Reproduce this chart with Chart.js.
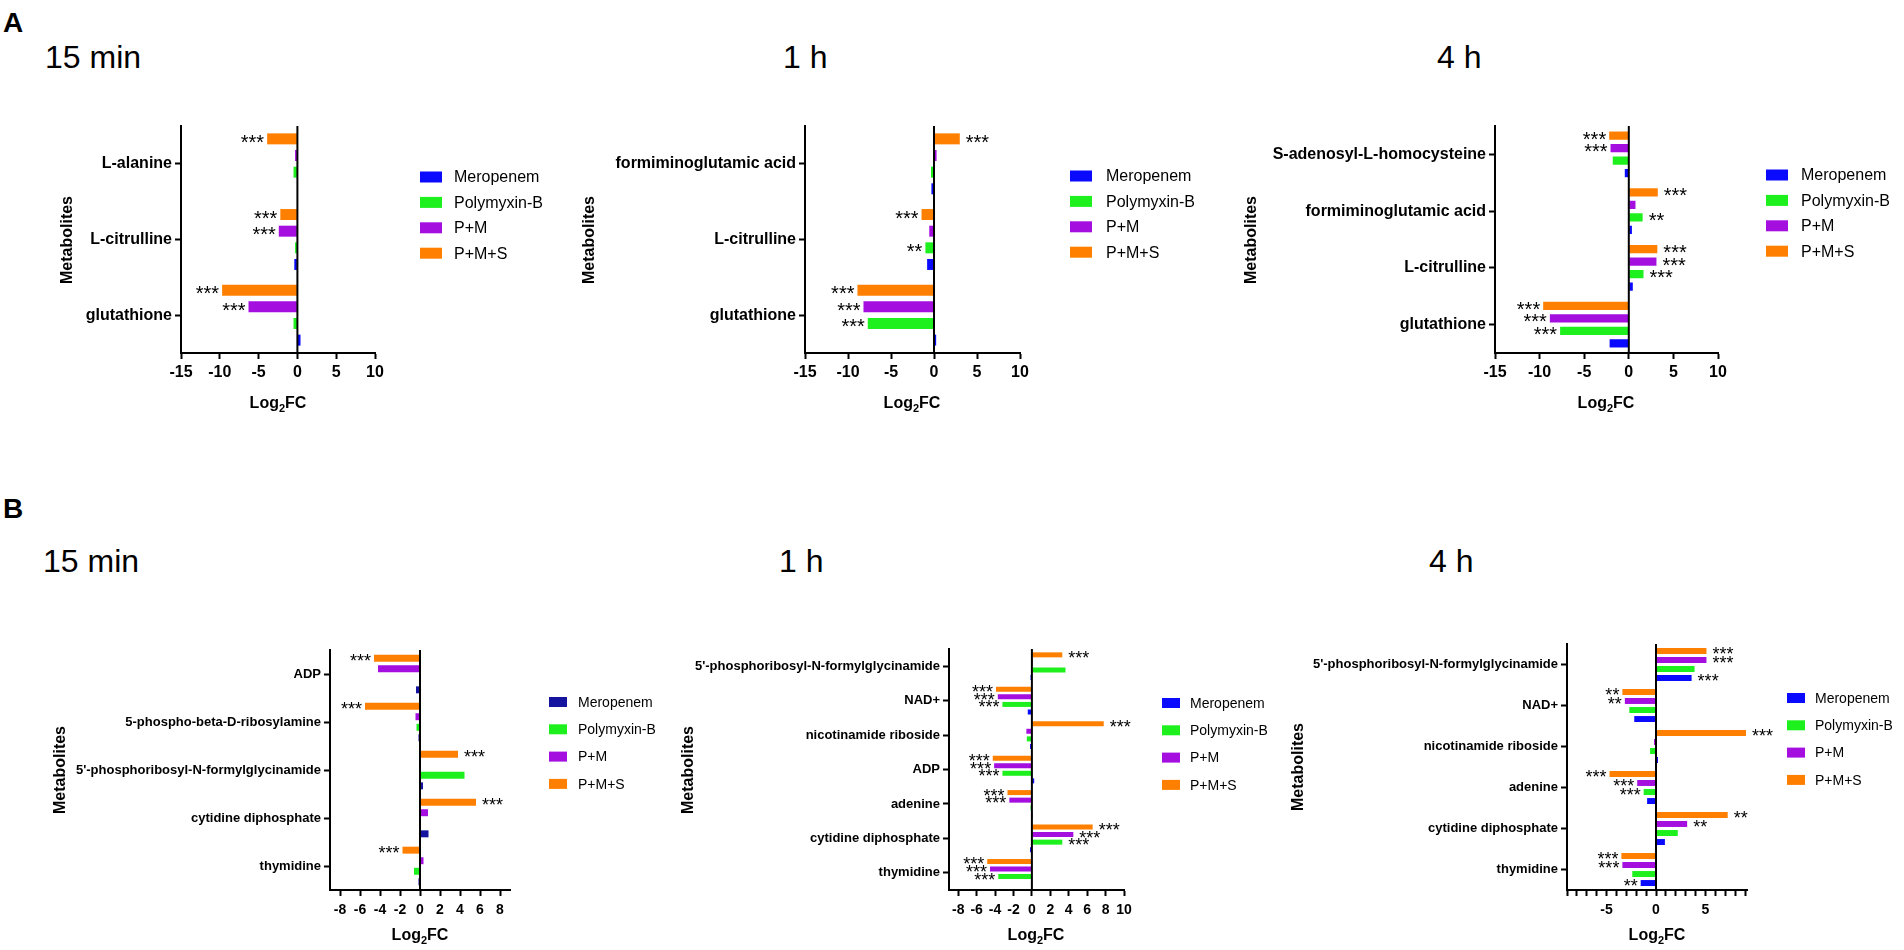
<!DOCTYPE html>
<html>
<head>
<meta charset="utf-8">
<script src="https://cdn.jsdelivr.net/npm/chart.js@4.4.1/dist/chart.umd.min.js"></script>
<style>
body{margin:0;background:#fff;width:1904px;height:950px;overflow:hidden;position:relative;font-family:'Liberation Sans',Arial,sans-serif;}
.etq{position:absolute;color:#000;white-space:nowrap;}
.letra{font-weight:bold;font-size:28px;line-height:28px;}
.tiempo{font-size:32px;line-height:32px;}
.panel{position:absolute;}
</style>
</head>
<body>
<div class="etq letra" style="left:3px;top:9px">A</div>
<div class="etq tiempo" style="left:45px;top:41px">15 min</div>
<div class="etq tiempo" style="left:783px;top:41px">1 h</div>
<div class="etq tiempo" style="left:1437px;top:41px">4 h</div>
<div class="etq letra" style="left:3px;top:495px">B</div>
<div class="etq tiempo" style="left:43px;top:545px">15 min</div>
<div class="etq tiempo" style="left:779px;top:545px">1 h</div>
<div class="etq tiempo" style="left:1429px;top:545px">4 h</div>
<script>
var series = ['Meropenem', 'Polymyxin-B', 'P+M', 'P+M+S'];
var colores = ['#0a0aff', '#1ef01e', '#a40fe0', '#ff8000'];
var coloresB15 = ['#14149e', '#1ef01e', '#a40fe0', '#ff8000'];

// A - 15 min
var catA15 = ['L-alanine', 'L-citrulline', 'glutathione'];
var merA15 = [0, -0.4, 0.4];
var polA15 = [-0.5, -0.3, -0.5];
var pmA15 = [-0.3, -2.4, -6.3];
var pmsA15 = [-3.9, -2.2, -9.7];
var sigA15 = [['', '', ''], ['', '', ''], ['', '***', '***'], ['***', '***', '***']];

// A - 1 h
var catA1h = ['formiminoglutamic acid', 'L-citrulline', 'glutathione'];
var merA1h = [-0.3, -0.8, 0.25];
var polA1h = [-0.35, -1.0, -7.7];
var pmA1h = [0.3, -0.55, -8.2];
var pmsA1h = [3.0, -1.45, -8.9];
var sigA1h = [['', '', ''], ['', '**', '***'], ['', '', '***'], ['***', '***', '***']];

// A - 4 h
var catA4h = ['S-adenosyl-L-homocysteine', 'formiminoglutamic acid', 'L-citrulline', 'glutathione'];
var merA4h = [-0.45, 0.35, 0.45, -2.15];
var polA4h = [-1.8, 1.55, 1.65, -7.7];
var pmA4h = [-2.05, 0.75, 3.1, -8.85];
var pmsA4h = [-2.2, 3.25, 3.2, -9.6];
var sigA4h = [['', '', '', ''], ['', '**', '***', '***'], ['***', '', '***', '***'], ['***', '***', '***', '***']];

// B - 15 min
var catB15 = ['ADP', '5-phospho-beta-D-ribosylamine', "5'-phosphoribosyl-N-formylglycinamide", 'cytidine diphosphate', 'thymidine'];
var merB15 = [-0.4, -0.15, 0.3, 0.85, -0.15];
var polB15 = [-0.05, -0.35, 4.45, 0.1, -0.6];
var pmB15 = [-4.2, -0.45, 0.05, 0.8, 0.35];
var pmsB15 = [-4.6, -5.5, 3.8, 5.6, -1.75];
var sigB15 = [['', '', '', '', ''], ['', '', '', '', ''], ['', '', '', '', ''], ['***', '***', '***', '***', '***']];

// B - 1 h
var catB1h = ["5'-phosphoribosyl-N-formylglycinamide", 'NAD+', 'nicotinamide riboside', 'ADP', 'adenine', 'cytidine diphosphate', 'thymidine'];
var merB1h = [-0.15, -0.45, -0.2, 0.25, 0.1, -0.2, -0.1];
var polB1h = [3.65, -3.2, -0.55, -3.2, -0.15, 3.3, -3.65];
var pmB1h = [0.1, -3.7, -0.6, -4.1, -2.45, 4.5, -4.55];
var pmsB1h = [3.3, -3.9, 7.8, -4.25, -2.65, 6.6, -4.85];
var sigB1h = [['', '', '', '', '', '', ''], ['', '***', '', '***', '', '***', '***'], ['', '***', '', '***', '***', '***', '***'], ['***', '***', '***', '***', '***', '***', '***']];

// B - 4 h
var catB4h = ["5'-phosphoribosyl-N-formylglycinamide", 'NAD+', 'nicotinamide riboside', 'adenine', 'cytidine diphosphate', 'thymidine'];
var merB4h = [3.6, -2.2, 0.2, -0.9, 0.9, -1.55];
var polB4h = [3.9, -2.7, -0.6, -1.25, 2.2, -2.4];
var pmB4h = [5.1, -3.15, -0.2, -1.9, 3.15, -3.4];
var pmsB4h = [5.1, -3.4, 9.1, -4.7, 7.25, -3.5];
var sigB4h = [['***', '', '', '', '', '**'], ['', '', '', '***', '', ''], ['***', '**', '', '***', '**', '***'], ['***', '**', '***', '***', '**', '***']];

// ejes
var ticksA = [-15, -10, -5, 0, 5, 10];
var ticksB15 = [-8, -6, -4, -2, 0, 2, 4, 6, 8];
var ticksB1h = [-8, -6, -4, -2, 0, 2, 4, 6, 8, 10];
var ticksB4h = [-9, -8, -7, -6, -5, -4, -3, -2, -1, 0, 1, 2, 3, 4, 5, 6, 7, 8, 9];
var etiqB4h = [-5, 0, 5];

var fuente = "'Liberation Sans', Arial, sans-serif";

var pluginCero = {
    id: 'cero',
    afterDatasetsDraw: function (chart) {
        var ctx = chart.ctx;
        var x = chart.scales.x.getPixelForValue(0);
        ctx.save();
        ctx.strokeStyle = '#000';
        ctx.lineWidth = 2;
        ctx.beginPath();
        ctx.moveTo(x, chart.chartArea.top);
        ctx.lineTo(x, chart.chartArea.bottom);
        ctx.stroke();
        ctx.restore();
    }
};

var pluginEstrellas = {
    id: 'estrellas',
    afterDatasetsDraw: function (chart, args, opts) {
        var ctx = chart.ctx;
        ctx.save();
        ctx.fillStyle = '#000';
        ctx.font = opts.size + 'px ' + fuente;
        ctx.textBaseline = 'alphabetic';
        chart.data.datasets.forEach(function (ds, i) {
            var meta = chart.getDatasetMeta(i);
            ds.estrellas.forEach(function (txt, j) {
                if (!txt) return;
                var el = meta.data[j];
                var y = el.y + opts.size * 0.5;
                if (ds.data[j] < 0) {
                    ctx.textAlign = 'right';
                    ctx.fillText(txt, el.x - opts.gap, y);
                } else {
                    ctx.textAlign = 'left';
                    ctx.fillText(txt, el.x + opts.gap + 3, y);
                }
            });
        });
        ctx.restore();
    }
};

var pluginLeyenda = {
    id: 'leyenda',
    afterDraw: function (chart, args, opts) {
        var ctx = chart.ctx;
        var ds = chart.data.datasets;
        ctx.save();
        ctx.font = opts.size + 'px ' + fuente;
        ctx.textBaseline = 'middle';
        ctx.textAlign = 'left';
        for (var k = 0; k < ds.length; k++) {
            var d = ds[ds.length - 1 - k];
            var y = opts.y + k * opts.dy;
            ctx.fillStyle = d.backgroundColor;
            ctx.fillRect(opts.x, y - opts.sh / 2, opts.sw, opts.sh);
            ctx.fillStyle = '#000';
            ctx.fillText(d.label, opts.tx, y + 1);
        }
        ctx.restore();
    }
};

var pluginTitulos = {
    id: 'titulos',
    afterDraw: function (chart, args, opts) {
        var ctx = chart.ctx;
        ctx.save();
        ctx.fillStyle = '#000';
        ctx.textBaseline = 'middle';
        // Metabolites
        ctx.font = 'bold 16px ' + fuente;
        ctx.translate(opts.mx, opts.my);
        ctx.rotate(-Math.PI / 2);
        ctx.textAlign = 'center';
        ctx.fillText('Metabolites', 0, 0);
        ctx.restore();
        // Log2FC con subindice
        ctx.save();
        ctx.fillStyle = '#000';
        ctx.textBaseline = 'middle';
        ctx.textAlign = 'left';
        ctx.font = 'bold 16px ' + fuente;
        var w1 = ctx.measureText('Log').width;
        var w3 = ctx.measureText('FC').width;
        ctx.font = 'bold 11px ' + fuente;
        var w2 = ctx.measureText('2').width;
        var x = opts.lx - (w1 + w2 + w3) / 2;
        ctx.font = 'bold 16px ' + fuente;
        ctx.fillText('Log', x, opts.ly);
        ctx.fillText('FC', x + w1 + w2, opts.ly);
        ctx.font = 'bold 11px ' + fuente;
        ctx.fillText('2', x + w1, opts.ly + 5);
        ctx.restore();
    }
};

function crearPanel(p) {
    var div = document.createElement('div');
    div.className = 'panel';
    div.style.left = p.cx + 'px';
    div.style.top = p.cy + 'px';
    div.style.width = p.w + 'px';
    div.style.height = p.h + 'px';
    var canvas = document.createElement('canvas');
    canvas.width = p.w;
    canvas.height = p.h;
    canvas.style.width = p.w + 'px';
    canvas.style.height = p.h + 'px';
    div.appendChild(canvas);
    document.body.appendChild(div);

    // P+M+S arriba, Meropenem abajo
    var datasets = [];
    for (var s = series.length - 1; s >= 0; s--) {
        datasets.push({
            label: series[s],
            data: p.valores[s],
            backgroundColor: p.colores[s],
            borderWidth: 0,
            estrellas: p.sig[s],
            barPercentage: 0.66,
            categoryPercentage: 0.88
        });
    }
    var ejeGrid = {drawOnChartArea: false, drawTicks: true, tickLength: 6, tickColor: '#000', tickWidth: 2};
    new Chart(canvas, {
        type: 'bar',
        data: {labels: p.cat, datasets: datasets},
        options: {
            indexAxis: 'y',
            responsive: false,
            animation: false,
            events: [],
            layout: {padding: {top: p.y0 - p.cy, right: p.cx + p.w - p.x1, left: 0, bottom: 0}},
            plugins: {
                legend: {display: false},
                tooltip: {enabled: false},
                estrellas: {size: p.starSize, gap: 3},
                leyenda: {x: p.lx - p.cx, tx: p.ltx - p.cx, y: p.ly - p.cy, dy: p.ldy, sw: p.sw, sh: p.sh, size: p.lsize},
                titulos: {mx: p.mx - p.cx, my: p.my - p.cy, lx: p.tx - p.cx, ly: p.ty - p.cy}
            },
            scales: {
                x: {
                    type: 'linear',
                    min: p.min,
                    max: p.max,
                    afterBuildTicks: function (sc) {
                        sc.ticks = p.ticks.map(function (v) { return {value: v}; });
                    },
                    afterFit: function (sc) { sc.height = p.cy + p.h - p.y1; },
                    ticks: {
                        autoSkip: false,
                        maxRotation: 0,
                        color: '#000',
                        padding: p.tickPad,
                        font: {family: fuente, weight: 'bold', size: p.tickSize},
                        callback: function (v) { return p.etiq.indexOf(v) >= 0 ? String(v) : ''; }
                    },
                    grid: ejeGrid,
                    border: {display: true, color: '#000', width: 2}
                },
                y: {
                    afterFit: function (sc) { sc.width = p.x0 - p.cx; },
                    ticks: {
                        autoSkip: false,
                        color: '#000',
                        padding: 3,
                        font: {family: fuente, weight: 'bold', size: p.catSize}
                    },
                    grid: {offset: false, drawOnChartArea: false, drawTicks: true, tickLength: 6, tickColor: '#000', tickWidth: 2},
                    border: {display: true, color: '#000', width: 2}
                }
            }
        },
        plugins: [pluginCero, pluginEstrellas, pluginLeyenda, pluginTitulos]
    });
}

var estiloA = {tickSize: 16, catSize: 16, starSize: 20, lsize: 16, sw: 22, sh: 11, ldy: 25.4, tickPad: 4};
var estiloB = {tickSize: 14, catSize: 13, starSize: 18, lsize: 14, sw: 18, sh: 10, ldy: 27.3, tickPad: 6};

function unir(a, b) {
    var r = {};
    for (var k in a) r[k] = a[k];
    for (var k2 in b) r[k2] = b[k2];
    return r;
}

crearPanel(unir(estiloA, {
    cx: 40, cy: 100, w: 520, h: 320, x0: 181, x1: 375, y0: 126, y1: 353,
    min: -15, max: 10, ticks: ticksA, etiq: ticksA,
    cat: catA15, valores: [merA15, polA15, pmA15, pmsA15], sig: sigA15, colores: colores,
    mx: 68, my: 240, tx: 278, ty: 404, lx: 420, ltx: 454, ly: 177
}));
crearPanel(unir(estiloA, {
    cx: 570, cy: 100, w: 650, h: 320, x0: 805, x1: 1020, y0: 126, y1: 353,
    min: -15, max: 10, ticks: ticksA, etiq: ticksA,
    cat: catA1h, valores: [merA1h, polA1h, pmA1h, pmsA1h], sig: sigA1h, colores: colores,
    mx: 590, my: 240, tx: 912, ty: 404, lx: 1070, ltx: 1106, ly: 176
}));
crearPanel(unir(estiloA, {
    cx: 1235, cy: 100, w: 669, h: 320, x0: 1495, x1: 1718, y0: 126, y1: 353,
    min: -15, max: 10, ticks: ticksA, etiq: ticksA,
    cat: catA4h, valores: [merA4h, polA4h, pmA4h, pmsA4h], sig: sigA4h, colores: colores,
    mx: 1252, my: 240, tx: 1606, ty: 404, lx: 1766, ltx: 1801, ly: 175
}));
crearPanel(unir(estiloB, {
    cx: 30, cy: 620, w: 645, h: 330, x0: 330, x1: 510, y0: 650, y1: 890,
    min: -9, max: 9, ticks: ticksB15, etiq: ticksB15,
    cat: catB15, valores: [merB15, polB15, pmB15, pmsB15], sig: sigB15, colores: coloresB15,
    mx: 61, my: 770, tx: 420, ty: 936, lx: 549, ltx: 578, ly: 702
}));
crearPanel(unir(estiloB, {
    cx: 675, cy: 620, w: 605, h: 330, x0: 949, x1: 1124, y0: 649, y1: 890,
    min: -9, max: 10, ticks: ticksB1h, etiq: ticksB1h,
    cat: catB1h, valores: [merB1h, polB1h, pmB1h, pmsB1h], sig: sigB1h, colores: colores,
    mx: 689, my: 770, tx: 1036, ty: 936, lx: 1162, ltx: 1190, ly: 703
}));
crearPanel(unir(estiloB, {
    cx: 1282, cy: 620, w: 622, h: 330, x0: 1567, x1: 1747, y0: 644, y1: 890,
    min: -9, max: 9.2, ticks: ticksB4h, etiq: etiqB4h,
    cat: catB4h, valores: [merB4h, polB4h, pmB4h, pmsB4h], sig: sigB4h, colores: colores,
    mx: 1299, my: 767, tx: 1657, ty: 936, lx: 1787, ltx: 1815, ly: 698
}));
</script>
</body>
</html>
